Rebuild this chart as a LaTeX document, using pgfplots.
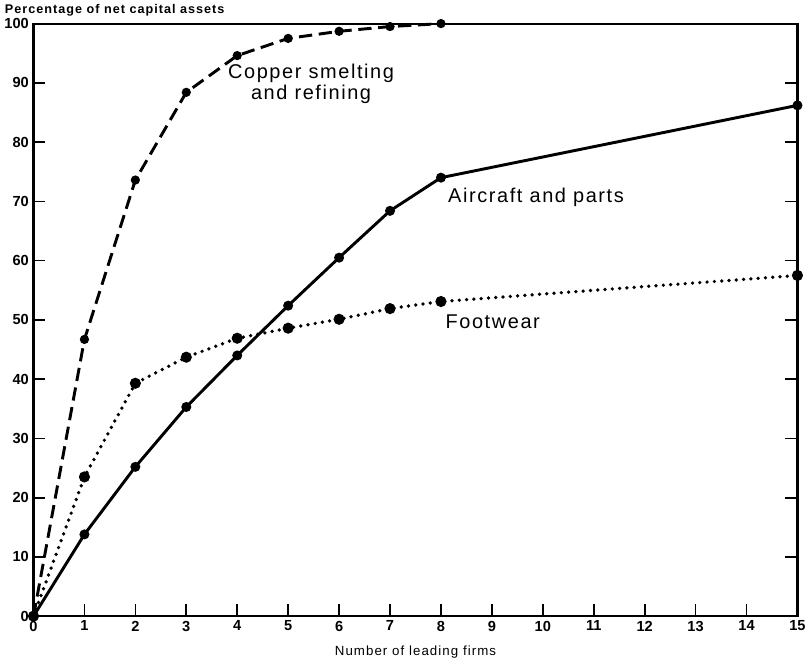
\documentclass[border=0pt]{standalone}
\usepackage{pgfplots}
\pgfplotsset{compat=1.18}
\usepackage{fontspec}
\setmainfont{Liberation Sans}
\newfontfamily\spaced[LetterSpace=8]{Liberation Sans}
\begin{document}
\begin{tikzpicture}
\begin{axis}[
  scale only axis, width=575pt, height=446pt,
  xmin=0, xmax=15, ymin=0, ymax=100,
  xtick={0,...,15}, ytick={0,10,...,100},
  tick align=inside, major tick length=9pt,
  xtick pos=left, ytick pos=both, yticklabel pos=left,
  axis line style={line width=1.6pt},
  tick style={line width=1.3pt, black},
  tick label style={font=\fontsize{11}{12}\selectfont\bfseries},
  /pgf/number format/assume math mode=true,
  xlabel={Number of leading firms},
  xlabel style={font=\spaced\fontsize{10}{11}\selectfont, yshift=-4pt},
  clip=false,
]
\addplot[black, line width=2.2pt, dash pattern=on 10pt off 5pt,
  mark=*, mark size=2.3pt, mark options={solid}] coordinates {
  (0,0) (1,46.7) (2,73.6) (3,88.4) (4,94.6) (5,97.5) (6,98.7) (7,99.5) (8,100)};
\addplot[black, line width=2.2pt, mark=*, mark size=2.6pt] coordinates {
  (0,0) (1,13.8) (2,25.2) (3,35.3) (4,44.0) (5,52.4) (6,60.5) (7,68.4) (8,74.0) (15,86.2)};
\addplot[black, line width=2.8pt, line cap=round, dash pattern=on 0pt off 5.5pt,
  mark=*, mark size=2.7pt, mark options={solid}] coordinates {
  (0,0) (1,23.5) (2,39.3) (3,43.7) (4,46.9) (5,48.6) (6,50.1) (7,51.9) (8,53.1) (15,57.5)};
\node[font=\spaced\fontsize{15}{16}\selectfont, align=center] at (axis cs:5.45,89.8) {Copper smelting\\and refining};
\node[font=\spaced\fontsize{15}{18}\selectfont, anchor=west] at (axis cs:8.05,70.6) {Aircraft and parts};
\node[font=\spaced\fontsize{15}{18}\selectfont, anchor=west] at (axis cs:8.0,49.7) {Footwear};
\node[font=\spaced\fontsize{9.5}{11}\selectfont\bfseries, anchor=south west] at ([xshift=-25pt, yshift=2pt]rel axis cs:0,1) {Percentage of net capital assets};
\end{axis}
\end{tikzpicture}
\end{document}
